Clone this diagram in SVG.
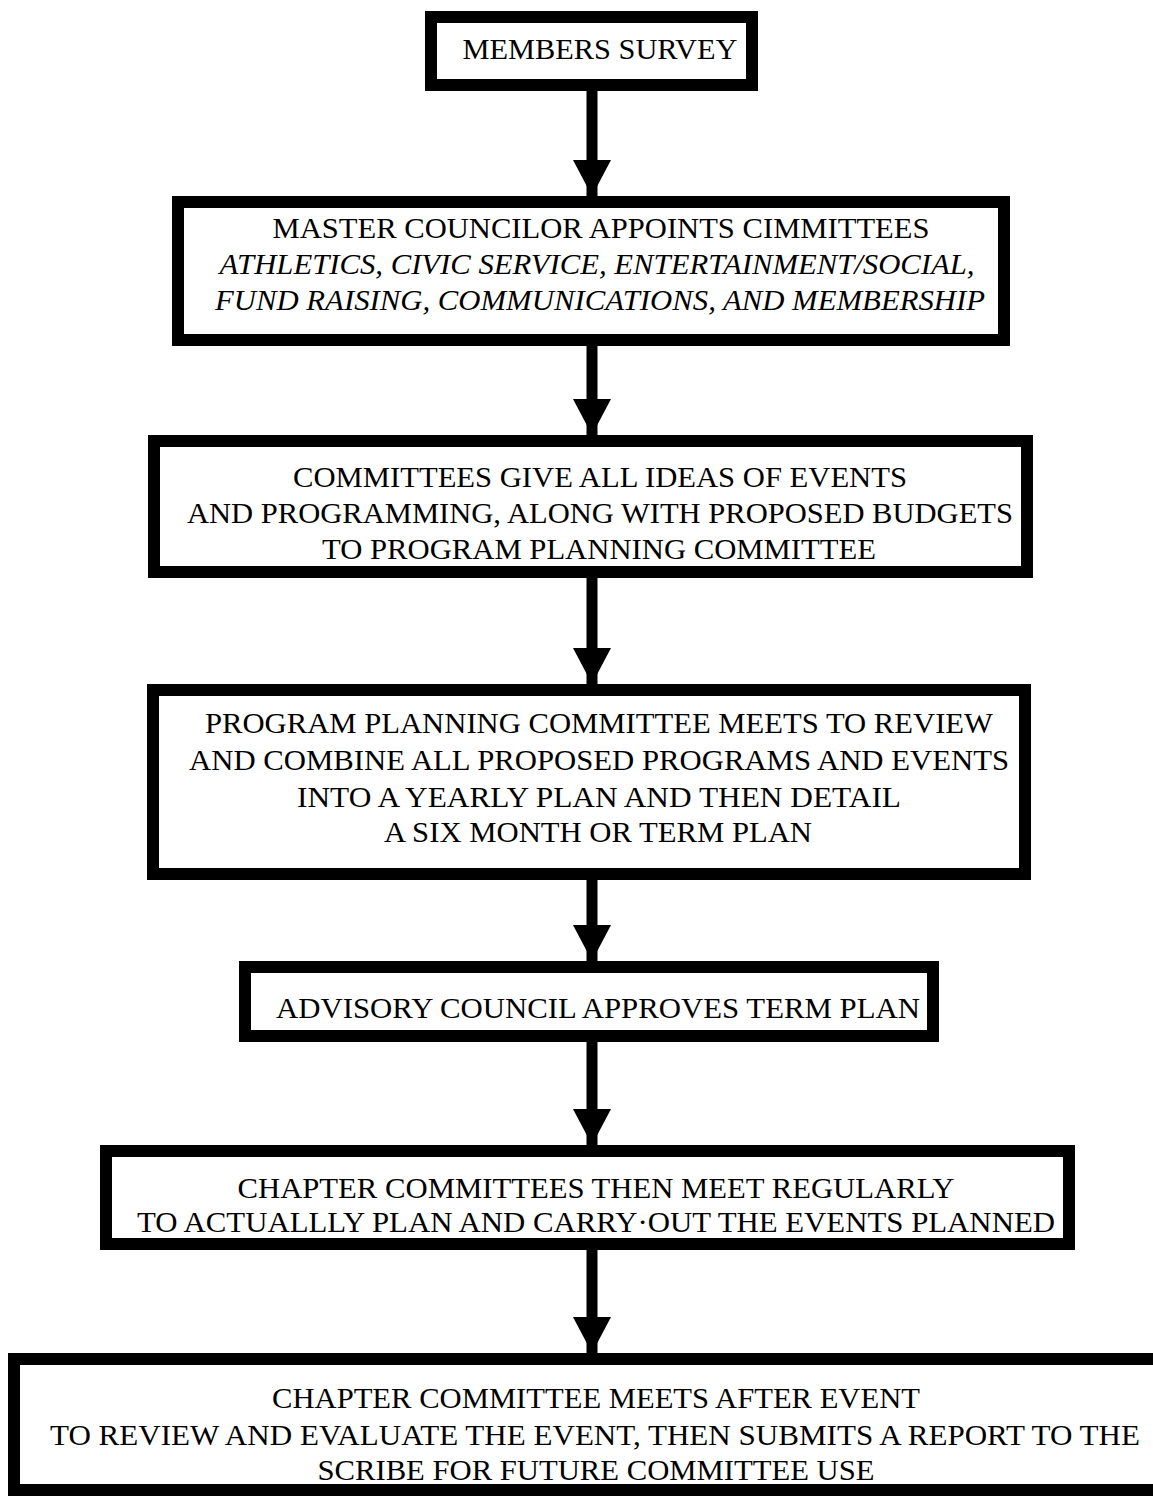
<svg xmlns="http://www.w3.org/2000/svg" width="1153" height="1499" viewBox="0 0 1153 1499">
<style>
.box{fill:#fff;stroke:#000;stroke-width:12}
text{font-family:'Liberation Serif','Times New Roman',Tinos,'DejaVu Serif',serif;font-size:29px;fill:#000;text-anchor:middle}
.i{font-style:italic}
.shaft{stroke:#000;stroke-width:11}
</style>
<defs>
<marker id="ah" markerUnits="userSpaceOnUse" markerWidth="40" markerHeight="38" refX="36" refY="19" orient="auto">
<path d="M0,0 L36,19 L0,38 Z" fill="#000"/>
</marker>
</defs>
<rect width="1153" height="1499" fill="#fff"/>
<g id="connectors">
<line class="shaft" x1="592" y1="91" x2="592" y2="196" marker-end="url(#ah)"/>
<line class="shaft" x1="592" y1="346" x2="592" y2="435" marker-end="url(#ah)"/>
<line class="shaft" x1="592" y1="578" x2="592" y2="684" marker-end="url(#ah)"/>
<line class="shaft" x1="592" y1="880" x2="592" y2="961" marker-end="url(#ah)"/>
<line class="shaft" x1="592" y1="1042" x2="592" y2="1145" marker-end="url(#ah)"/>
<line class="shaft" x1="592" y1="1250" x2="592" y2="1353" marker-end="url(#ah)"/>
</g>
<g id="n1">
<rect class="box" x="431" y="17" width="321" height="68"/>
<text font-family="Liberation Serif, serif" x="600" y="59" textLength="275" lengthAdjust="spacingAndGlyphs">MEMBERS SURVEY</text>
</g>
<g id="n2">
<rect class="box" x="178" y="202" width="826" height="138"/>
<text font-family="Liberation Serif, serif" x="601" y="238" textLength="657" lengthAdjust="spacingAndGlyphs">MASTER COUNCILOR APPOINTS CIMMITTEES</text>
<text font-family="Liberation Serif, serif" class="i" x="597" y="274" textLength="755" lengthAdjust="spacingAndGlyphs">ATHLETICS, CIVIC SERVICE, ENTERTAINMENT/SOCIAL,</text>
<text font-family="Liberation Serif, serif" class="i" x="600" y="310" textLength="770" lengthAdjust="spacingAndGlyphs">FUND RAISING, COMMUNICATIONS, AND MEMBERSHIP</text>
</g>
<g id="n3">
<rect class="box" x="154" y="441" width="873" height="131"/>
<text font-family="Liberation Serif, serif" x="600" y="487" textLength="614" lengthAdjust="spacingAndGlyphs">COMMITTEES GIVE ALL IDEAS OF EVENTS</text>
<text font-family="Liberation Serif, serif" x="600" y="523" textLength="826" lengthAdjust="spacingAndGlyphs">AND PROGRAMMING, ALONG WITH PROPOSED BUDGETS</text>
<text font-family="Liberation Serif, serif" x="599" y="559" textLength="554" lengthAdjust="spacingAndGlyphs">TO PROGRAM PLANNING COMMITTEE</text>
</g>
<g id="n4">
<rect class="box" x="153" y="690" width="872" height="184"/>
<text font-family="Liberation Serif, serif" x="599" y="733" textLength="788" lengthAdjust="spacingAndGlyphs">PROGRAM PLANNING COMMITTEE MEETS TO REVIEW</text>
<text font-family="Liberation Serif, serif" x="599" y="770" textLength="820" lengthAdjust="spacingAndGlyphs">AND COMBINE ALL PROPOSED PROGRAMS AND EVENTS</text>
<text font-family="Liberation Serif, serif" x="599" y="807" textLength="604" lengthAdjust="spacingAndGlyphs">INTO A YEARLY PLAN AND THEN DETAIL</text>
<text font-family="Liberation Serif, serif" x="598" y="842" textLength="428" lengthAdjust="spacingAndGlyphs">A SIX MONTH OR TERM PLAN</text>
</g>
<g id="n5">
<rect class="box" x="245" y="967" width="688" height="69"/>
<text font-family="Liberation Serif, serif" x="598" y="1018" textLength="644" lengthAdjust="spacingAndGlyphs">ADVISORY COUNCIL APPROVES TERM PLAN</text>
</g>
<g id="n6">
<rect class="box" x="106" y="1151" width="963" height="93"/>
<text font-family="Liberation Serif, serif" x="596" y="1198" textLength="717" lengthAdjust="spacingAndGlyphs">CHAPTER COMMITTEES THEN MEET REGULARLY</text>
<text font-family="Liberation Serif, serif" x="596" y="1232" textLength="918" lengthAdjust="spacingAndGlyphs">TO ACTUALLLY PLAN AND CARRY·OUT THE EVENTS PLANNED</text>
</g>
<g id="n7">
<rect class="box" x="14" y="1359" width="1150" height="131"/>
<text font-family="Liberation Serif, serif" x="596" y="1408" textLength="648" lengthAdjust="spacingAndGlyphs">CHAPTER COMMITTEE MEETS AFTER EVENT</text>
<text font-family="Liberation Serif, serif" x="595" y="1445" textLength="1090" lengthAdjust="spacingAndGlyphs">TO REVIEW AND EVALUATE THE EVENT, THEN SUBMITS A REPORT TO THE</text>
<text font-family="Liberation Serif, serif" x="596" y="1480" textLength="557" lengthAdjust="spacingAndGlyphs">SCRIBE FOR FUTURE COMMITTEE USE</text>
</g>
</svg>
